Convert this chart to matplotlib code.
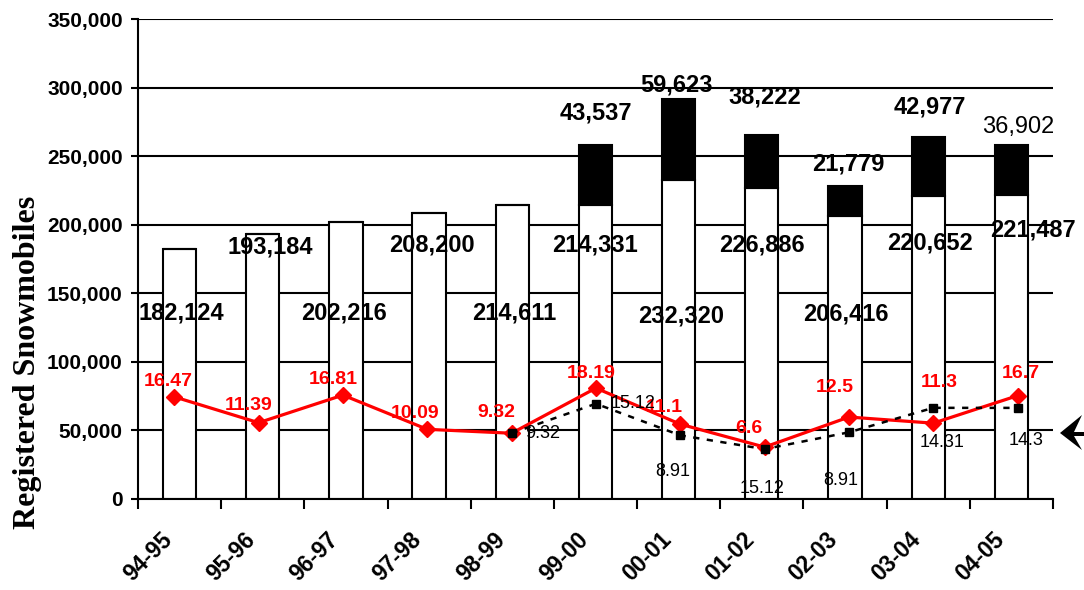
import matplotlib
matplotlib.use("Agg")
import matplotlib.pyplot as plt
from matplotlib.patches import Polygon
from matplotlib.ticker import FuncFormatter, FixedLocator
from matplotlib.transforms import ScaledTranslation

# data
seasons = ["94-95", "95-96", "96-97", "97-98", "98-99", "99-00",
           "00-01", "01-02", "02-03", "03-04", "04-05"]
base_regs = [182124, 193184, 202216, 208200, 214611, 214331,
             232320, 226886, 206416, 220652, 221487]
# extra (black) part, only from 99-00 on
extra_regs = [0, 0, 0, 0, 0, 43537, 59623, 38222, 21779, 42977, 36902]
red_pct = [16.47, 11.39, 16.81, 10.09, 9.32, 18.19, 11.1, 6.6, 12.5, 11.3, 16.7]
# dashed black series starts at 98-99
blk_idx = [4, 5, 6, 7, 8, 9, 10]
blk_pct = [9.32, 15.12, 8.91, 6.2, 9.5, 14.31, 14.3]
blk_lbls = ["9.32", "15.12", "8.91", "15.12", "8.91", "14.31", "14.3"]

# label placement (layout only)
base_lbl_y = [135600, 183750, 135600, 185200, 135600, 185200,
              133400, 185200, 134900, 186700, 196100]
base_lbl_dx = [2, 7, -2, 3, 2, 0, 2, 0, 1, 2, 22]
top_lbl_off = [(0, 32), (-2, 14), (3, 38), (3, 22), (2, 30), (7, 18)]
red_lbl_off = [(-6, 15), (-10, 17), (-10, 16), (-12, 16), (-15, 21), (-5, 15),
               (-16, 17), (-16, 19), (-14, 30), (6, 41), (3, 22)]
blk_lbl_off = [(31, 0), (37, 0), (-8, -36), (-3, -39), (-8, -48), (9, -35), (8, -33)]

W, H = 1084, 590
fig = plt.figure(figsize=(W / 100, H / 100), dpi=100)
ax = fig.add_axes([138 / W, 1 - 499 / H, (1053 - 138) / W, 480 / H])

sans = "Liberation Sans"
x = list(range(len(seasons)))

ax.bar(x, base_regs, width=0.4, color="white", edgecolor="black", lw=1.5, zorder=2)
ax.bar(x, extra_regs, bottom=base_regs, width=0.4, color="black",
       edgecolor="black", lw=1.5, zorder=2)

ax.set_xlim(-0.5, 10.5)
ax.set_ylim(0, 350000)
ax.set_yticks(range(0, 350001, 50000))
ax.yaxis.set_major_formatter(FuncFormatter(lambda v, p: f"{int(v):,}"))
ax.yaxis.grid(True, color="black", lw=1.5)
ax.set_axisbelow(True)
for s in ["top", "right"]:
    ax.spines[s].set_visible(False)
ax.spines["left"].set_linewidth(1.5)
ax.spines["bottom"].set_linewidth(1.5)

ax.xaxis.set_major_locator(FixedLocator([i - 0.5 for i in range(12)]))
ax.xaxis.set_major_formatter(FuncFormatter(lambda v, p: ""))
ax.xaxis.set_minor_locator(FixedLocator(x))
ax.set_xticklabels(seasons, minor=True)
ax.tick_params(axis="x", which="major", direction="out", length=7, width=1.5)
ax.tick_params(axis="x", which="minor", length=0, pad=21)
ax.tick_params(axis="y", direction="out", length=5, width=1.5, pad=6)
shift = ScaledTranslation(-19 / 100, 0, fig.dpi_scale_trans)
for t in ax.get_xticklabels(minor=True):
    t.set_rotation(45)
    t.set_ha("right")
    t.set_va("top")
    t.set_rotation_mode("anchor")
    t.set_fontsize(16.5)
    t.set_fontweight("bold")
    t.set_family(sans)
    t.set_transform(t.get_transform() + shift)
for t in ax.get_yticklabels():
    t.set_fontsize(15)
    t.set_fontweight("bold")
    t.set_family(sans)

# bar value labels
for i, v in enumerate(base_regs):
    ax.annotate(f"{v:,}", xy=(i, base_lbl_y[i]), xytext=(base_lbl_dx[i], 0),
                textcoords="offset pixels", ha="center", va="center",
                fontsize=17, fontweight="bold", family=sans, zorder=5)
k = 0
for i, v in enumerate(extra_regs):
    if v == 0:
        continue
    dx, dy = top_lbl_off[k]
    ax.annotate(f"{v:,}", xy=(i, base_regs[i] + v), xytext=(dx, dy),
                textcoords="offset pixels", ha="center", va="center",
                fontsize=17, fontweight="bold" if i < 10 else "normal",
                family=sans, zorder=5)
    k += 1

fig.text(28 / W, 1 - 362 / H, "Registered Snowmobiles", rotation=90,
         ha="center", va="center", fontsize=23, fontweight="bold",
         family="Liberation Serif")

# percentage lines on their own scale
ax2 = fig.add_axes(ax.get_position(), frameon=False)
ax2.set_xlim(-0.43, 10.42)
ax2.set_ylim(-3.6, 90.7)
ax2.axis("off")
ax2.plot(x, red_pct, color="red", lw=2.3, marker="D", ms=8, zorder=3)
ax2.plot(blk_idx, blk_pct, color="black", lw=1.8, ls=(0, (2.5, 3)),
         marker="s", ms=5.5, zorder=4)

for i, v in enumerate(red_pct):
    ax2.annotate(f"{v:g}", xy=(i, v), xytext=red_lbl_off[i],
                 textcoords="offset pixels", ha="center", va="center",
                 fontsize=14, fontweight="bold", color="red", family=sans)
for j, i in enumerate(blk_idx):
    ax2.annotate(blk_lbls[j], xy=(i, blk_pct[j]), xytext=blk_lbl_off[j],
                 textcoords="offset pixels", ha="center", va="center",
                 fontsize=13, color="black", family=sans)

# stealth arrow head cut by the right edge
arrow_px = [(1060, 433), (1082, 415), (1074, 432), (1090, 432), (1090, 436),
            (1074, 436), (1082, 450)]
fig.add_artist(Polygon([(px / W, 1 - py / H) for px, py in arrow_px],
                       closed=True, transform=fig.transFigure,
                       color="black", lw=0))

fig.savefig("out.png", dpi=100)
